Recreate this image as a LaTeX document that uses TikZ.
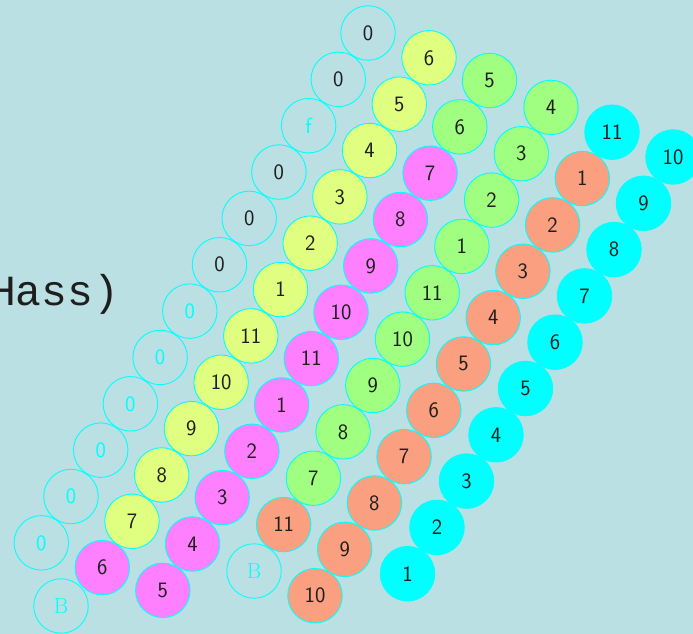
\documentclass[tikz,border=0pt]{standalone}
\usepackage{fontspec}
\newfontfamily\bannerfont{Liberation Mono}
\definecolor{bgteal}{RGB}{187,224,227}
\definecolor{ringcyan}{RGB}{0,255,255}
\definecolor{inkdark}{RGB}{30,30,30}
\definecolor{ylwfill}{RGB}{224,255,128}
\definecolor{pnkfill}{RGB}{255,128,255}
\definecolor{grnfill}{RGB}{160,255,128}
\definecolor{orgfill}{RGB}{250,160,128}
\definecolor{cyafill}{RGB}{0,255,255}

\begin{document}
\begin{tikzpicture}[x=1pt,y=-1pt,
  ball/.style={circle,draw=ringcyan,line width=0.9pt,minimum size=54.5pt,inner sep=0pt,
    text=inkdark,font=\fontsize{22}{22}\selectfont\sffamily},
  hollow/.style={ball},
  hollowcy/.style={ball,text=ringcyan},
  yball/.style={ball,fill=ylwfill},
  mball/.style={ball,fill=pnkfill},
  gball/.style={ball,fill=grnfill},
  oball/.style={ball,fill=orgfill},
  cball/.style={ball,fill=cyafill}]
  \useasboundingbox (0,0) rectangle (693,634);
  \clip (0,0) rectangle (693,634);
  \fill[bgteal] (0,0) rectangle (693,634);
  % caption, cut off at the left edge
  \node[anchor=base west,inner sep=0pt,text=inkdark,font=\bannerfont\fontsize{43}{43}\selectfont]
    (tag) at (-10,305) {Hass)};
  % column 0: empty rings
  \foreach \lbl/\sty [count=\j from 0] in {0/hollow,0/hollow,f/hollowcy,0/hollow,0/hollow,0/hollow,
      0/hollowcy,0/hollowcy,0/hollowcy,0/hollowcy,0/hollowcy,0/hollowcy}
    \node[\sty] (k0-\j) at ({368-29.7*\j},{33+46.35*\j}) {\lbl};
  \node[hollowcy,font=\fontsize{22}{22}\selectfont\rmfamily] (b0) at (61,606) {B};
  % column 1
  \foreach \lbl/\sty [count=\j from 0] in {6/yball,5/yball,4/yball,3/yball,2/yball,1/yball,
      11/yball,10/yball,9/yball,8/yball,7/yball,6/mball}
    \node[\sty] (k1-\j) at ({429-29.7*\j},{57.8+46.35*\j}) {\lbl};
  % column 2
  \foreach \lbl/\sty [count=\j from 0] in {5/gball,6/gball,7/mball,8/mball,9/mball,10/mball,
      11/mball,1/mball,2/mball,3/mball,4/mball,5/mball}
    \node[\sty] (k2-\j) at ({489.5-29.7*\j},{80.5+46.35*\j}) {\lbl};
  % column 3
  \foreach \lbl/\sty [count=\j from 0] in {4/gball,3/gball,2/gball,1/gball,11/gball,10/gball,
      9/gball,8/gball,7/gball,11/oball}
    \node[\sty] (k3-\j) at ({551-29.7*\j},{107.4+46.35*\j}) {\lbl};
  \node[hollowcy,font=\fontsize{22}{22}\selectfont\rmfamily] (b3) at (254,571) {B};
  % column 4
  \foreach \lbl/\sty [count=\j from 0] in {11/cball,1/oball,2/oball,3/oball,4/oball,5/oball,
      6/oball,7/oball,8/oball,9/oball,10/oball}
    \node[\sty] (k4-\j) at ({612-29.7*\j},{132.2+46.35*\j}) {\lbl};
  % column 5
  \foreach \lbl [count=\j from 0] in {10,9,8,7,6,5,4,3,2,1}
    \node[cball] (k5-\j) at ({673-29.5*\j},{157+46.3*\j}) {\lbl};
\end{tikzpicture}
\end{document}
